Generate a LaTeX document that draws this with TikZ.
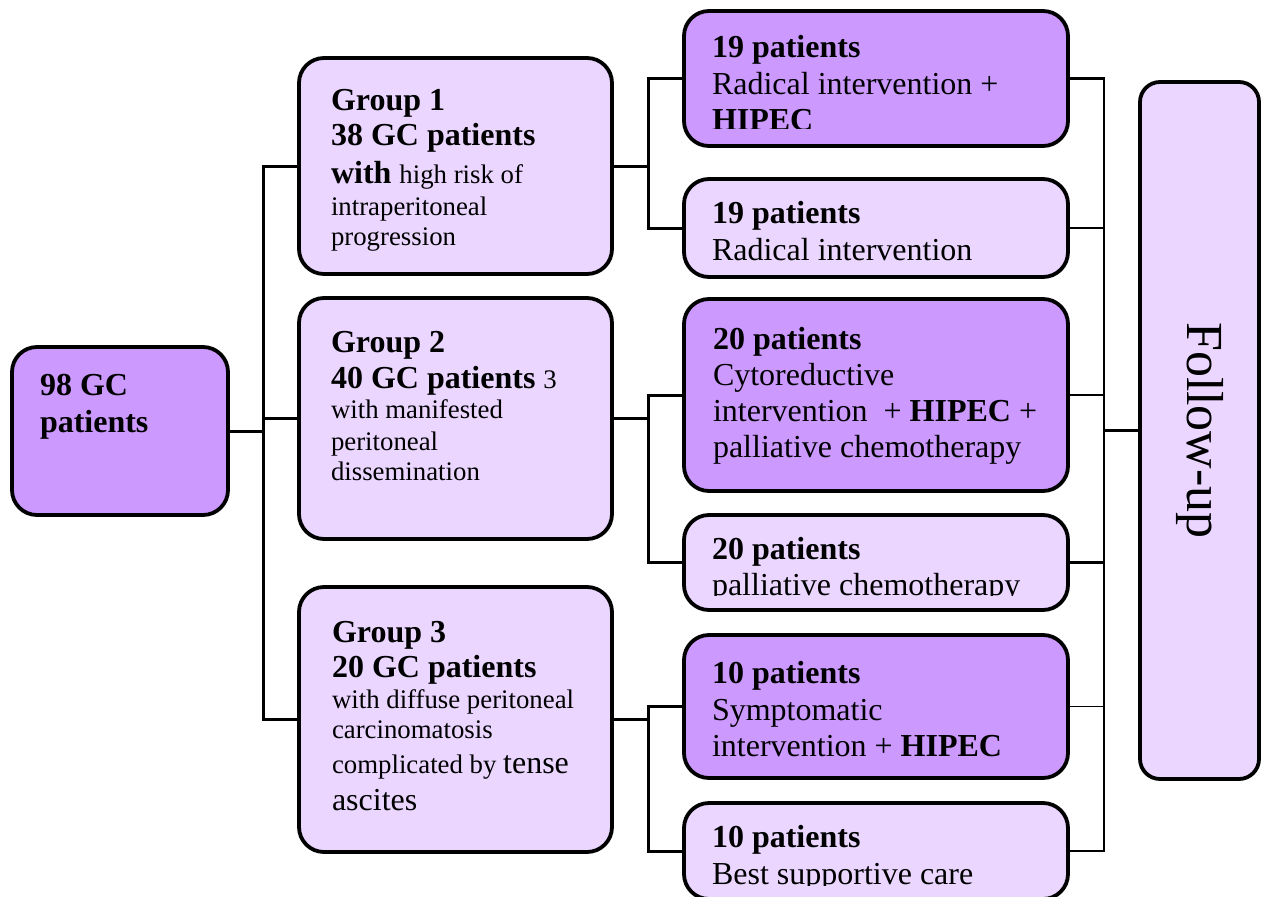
\documentclass[tikz,border=0pt]{standalone}
\usepackage{fontspec}
\setmainfont{Liberation Serif}
\definecolor{pdark}{RGB}{204,153,255}
\definecolor{plight}{RGB}{234,214,255}
\newcommand\fbg{\fontsize{32}{36}\selectfont}
\newcommand\fsm{\fontsize{26.8}{30}\selectfont}
\newcommand\fbb{\fontsize{32}{36}\selectfont\bfseries}
\newcommand\myln[2]{\baselineskip=#1pt\hbox{#2}}
\newcommand\mylines[1]{\vtop{\lineskiplimit=-200pt\lineskip=0pt #1}}
\tikzset{
  box/.style={draw=black, line width=3.8pt, rounded corners=25pt, anchor=north west, inner sep=0pt, outer sep=0pt},
  darkbox/.style={box, fill=pdark},
  lightbox/.style={box, fill=plight},
  conn/.style={line width=3pt},
  connr/.style={line width=2.6pt},
  connthin/.style={line width=1.5pt},
  txt/.style={anchor=base west, inner sep=0pt, outer sep=0pt},
}
\begin{document}
\begin{tikzpicture}[x=1pt,y=-1pt]
\fill[white] (0,0) rectangle (1267,897);
\useasboundingbox (0,0) rectangle (1267,897);

% junction coordinates
\coordinate (ja) at (263,0);
\coordinate (jb) at (648,0);
\coordinate (jc) at (1104,0);

% boxes
\node[darkbox, minimum width=216pt, minimum height=168pt] (root) at (12,347) {};
\node[lightbox, minimum width=313pt, minimum height=216pt] (g1) at (299,58) {};
\node[lightbox, minimum width=313pt, minimum height=241pt] (g2) at (299,298) {};
\node[lightbox, minimum width=313pt, minimum height=265pt] (g3) at (299,587) {};
\node[darkbox, minimum width=384pt, minimum height=135pt] (r1) at (684,11) {};
\node[lightbox, minimum width=384pt, minimum height=98pt] (r2) at (684,179) {};
\node[darkbox, minimum width=384pt, minimum height=192pt] (r3) at (684,299) {};
\node[lightbox, minimum width=384pt, minimum height=95pt] (r4) at (684,515) {};
\node[darkbox, minimum width=384pt, minimum height=143pt] (r5) at (684,635) {};
\node[lightbox, minimum width=384pt, minimum height=96pt] (r6) at (684,803) {};
\node[lightbox, minimum width=119pt, minimum height=697pt, rounded corners=20pt] (fu) at (1140,82) {};

% connectors left
\draw[conn] (root.east) -- (root.east -| ja);
\draw[conn] (g1.west) -- (g1.west -| ja) -- (g3.west -| ja) -- (g3.west);
\draw[conn] (g2.west) -- (g2.west -| ja);
% connectors middle
\draw[conn] (g1.east) -- (g1.east -| jb);
\draw[conn] (r1.west) -- (r1.west -| jb) -- (r2.west -| jb) -- (r2.west);
\draw[conn] (g2.east) -- (g2.east -| jb);
\draw[conn] (r3.west) -- (r3.west -| jb) -- (r4.west -| jb) -- (r4.west);
\draw[conn] (g3.east) -- (g3.east -| jb);
\draw[conn] (r5.west) -- (r5.west -| jb) -- (r6.west -| jb) -- (r6.west);
% connectors right
\draw[connr] (r1.east) -- (r1.east -| jc) -- (r6.east -| jc) -- (r6.east);
\draw[connr] (r2.east) -- (r2.east -| jc);
\draw[connr] (r3.east) -- (r3.east -| jc);
\draw[connr] (r4.east) -- (r4.east -| jc);
\draw[connthin] (r5.east) -- (r5.east -| jc);
\draw[conn] (fu.west) -- (fu.west -| jc);

% texts
\node[txt] (roott) at (40,395) {\mylines{\myln{0}{\fbb 98 GC}\myln{37}{\fbb patients}}};
\node[txt] (g1t) at (331,110) {\mylines{%
  \myln{0}{\fbb Group 1}%
  \myln{35}{\fbb 38 GC patients}%
  \myln{38}{\fbb with \fsm\mdseries high risk of}%
  \myln{32}{\fsm intraperitoneal}%
  \myln{30}{\fsm progression}}};
\node[txt] (g2t) at (331,352) {\mylines{%
  \myln{0}{\fbb Group 2}%
  \myln{36}{\fbb 40 GC patients \fsm\mdseries 3}%
  \myln{30}{\fsm with manifested}%
  \myln{32}{\fsm peritoneal}%
  \myln{30}{\fsm dissemination}}};
\node[txt] (g3t) at (332,642) {\mylines{%
  \myln{0}{\fbb Group 3}%
  \myln{35}{\fbb 20 GC patients}%
  \myln{31}{\fsm with diffuse peritoneal}%
  \myln{30}{\fsm carcinomatosis}%
  \myln{35}{\fsm complicated by \fbg tense}%
  \myln{37}{\fbg ascites}}};

\begin{scope}
\clip (690,0) rectangle (1060,128);
\node[txt] (r1t) at (712,57) {\mylines{%
  \myln{0}{\fbb 19 patients}%
  \myln{37}{\fbg Radical intervention +}%
  \myln{36}{\fbb HIPEC}}};
\end{scope}
\node[txt] (r2t) at (712,223) {\mylines{%
  \myln{0}{\fbb 19 patients}%
  \myln{37}{\fbg Radical intervention}}};
\node[txt] (r3t) at (713,349) {\mylines{%
  \myln{0}{\fbb 20 patients}%
  \myln{36}{\fbg Cytoreductive}%
  \myln{36}{\fbg intervention \ + \textbf{HIPEC} +}%
  \myln{36}{\fbg palliative chemotherapy}}};
\begin{scope}
\clip (690,520) rectangle (1060,595.5);
\node[txt] (r4t) at (712,559) {\mylines{%
  \myln{0}{\fbb 20 patients}%
  \myln{36}{\fbg palliative chemotherapy}}};
\end{scope}
\node[txt] (r5t) at (712,683) {\mylines{%
  \myln{0}{\fbb 10 patients}%
  \myln{37}{\fbg Symptomatic}%
  \myln{36}{\fbg intervention + \textbf{HIPEC}}}};
\begin{scope}
\clip (690,810) rectangle (1060,885);
\node[txt] (r6t) at (712,847) {\mylines{%
  \myln{0}{\fbb 10 patients}%
  \myln{37}{\fbg Best supportive care}}};
\end{scope}
\node[rotate=-90, inner sep=0pt, font=\fontsize{52}{60}\selectfont] (fut) at (fu.center) {Follow-up};
\end{tikzpicture}
\end{document}
